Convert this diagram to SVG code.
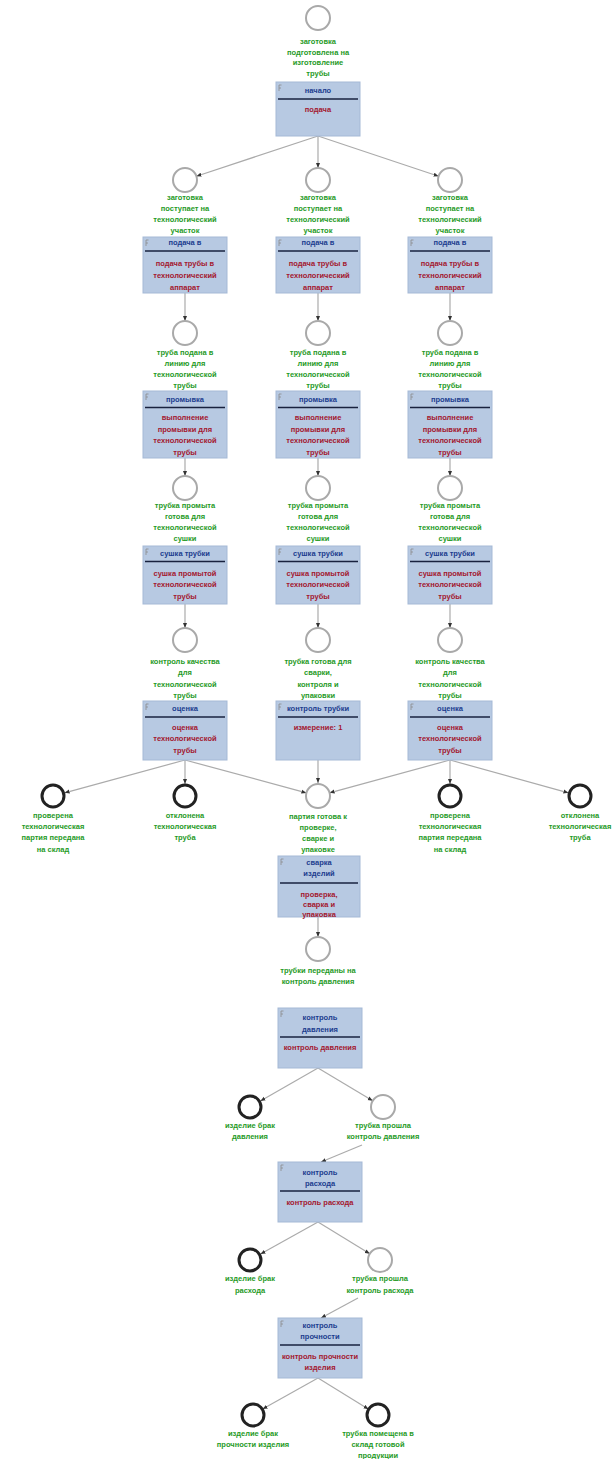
<svg xmlns="http://www.w3.org/2000/svg" width="613" height="1459" viewBox="0 0 613 1459">
<style>
text{font-family:"Liberation Sans",Arial,sans-serif;font-weight:bold;font-size:7.5px;text-anchor:middle}
.lbl{fill:#1f9a1f}
.t{fill:#1b3c8e}
.r{fill:#a3172f}
.box{fill:#b7c9e2;stroke:#a5b9d6;stroke-width:1}
.sep{stroke:#18223f;stroke-width:1.5}
.ico{fill:none;stroke:#8a8a8a;stroke-width:0.8}
.st{fill:#fff;stroke:#a9a9a9;stroke-width:2}
.end{fill:#fff;stroke:#222;stroke-width:3}
.edge{fill:none;stroke:#ababab;stroke-width:1.2;marker-end:url(#arr)}
</style>
<defs>
<marker id="arr" viewBox="0 0 10 10" refX="10" refY="5" markerWidth="5" markerHeight="5" orient="auto" markerUnits="userSpaceOnUse">
<path d="M0,1 L10,5 L0,9 z" fill="#333"/>
</marker>
</defs>
<rect width="613" height="1459" fill="#fff"/>

<g id="connectors">
<line class="edge" x1="318" y1="136" x2="196.4" y2="176.2"/>
<line class="edge" x1="318" y1="136" x2="318" y2="168"/>
<line class="edge" x1="318" y1="136" x2="438.6" y2="176.2"/>
<line class="edge" x1="185" y1="293" x2="185" y2="321"/>
<line class="edge" x1="318" y1="293" x2="318" y2="321"/>
<line class="edge" x1="450" y1="293" x2="450" y2="321"/>
<line class="edge" x1="185" y1="458" x2="185" y2="476"/>
<line class="edge" x1="318" y1="458" x2="318" y2="476"/>
<line class="edge" x1="450" y1="458" x2="450" y2="476"/>
<line class="edge" x1="185" y1="604" x2="185" y2="628"/>
<line class="edge" x1="318" y1="604" x2="318" y2="628"/>
<line class="edge" x1="450" y1="604" x2="450" y2="628"/>
<line class="edge" x1="185" y1="760" x2="64.6" y2="792.8"/>
<line class="edge" x1="185" y1="760" x2="185" y2="784"/>
<line class="edge" x1="185" y1="760" x2="306.4" y2="792.9"/>
<line class="edge" x1="318" y1="760" x2="318" y2="783"/>
<line class="edge" x1="450" y1="760" x2="329.6" y2="792.8"/>
<line class="edge" x1="450" y1="760" x2="450" y2="784"/>
<line class="edge" x1="450" y1="760" x2="568.4" y2="792.8"/>
<line class="edge" x1="318" y1="917" x2="318" y2="937"/>
<line class="edge" x1="318" y1="1068" x2="260.4" y2="1101"/>
<line class="edge" x1="318" y1="1068" x2="372.7" y2="1100.8"/>
<line class="edge" x1="362" y1="1145" x2="321" y2="1162"/>
<line class="edge" x1="318" y1="1222" x2="260.5" y2="1254.1"/>
<line class="edge" x1="318" y1="1222" x2="369.8" y2="1253.7"/>
<line class="edge" x1="358" y1="1298" x2="321" y2="1318"/>
<line class="edge" x1="318" y1="1378" x2="262.6" y2="1409.1"/>
<line class="edge" x1="318" y1="1378" x2="368.6" y2="1409.2"/>
</g>

<!-- top -->
<g id="s0"><circle class="st" cx="318" cy="18" r="12"/>
<text class="lbl" x="318" y="44">заготовка<tspan x="318" dy="10.5">подготовлена на</tspan><tspan x="318" dy="10.5">изготовление</tspan><tspan x="318" dy="10.5">трубы</tspan></text></g>
<g id="f0"><rect class="box" x="276" y="82" width="84" height="54"/><path class="ico" d="M279,85v6M279,85h2.5M279,88h2"/>
<text class="t" x="318" y="93">начало</text><line class="sep" x1="278" y1="99" x2="358" y2="99"/>
<text class="r" x="318" y="112">подача</text></g>

<!-- row 2 -->
<g id="s1a"><circle class="st" cx="185" cy="180" r="12"/>
<text class="lbl" x="185" y="200">заготовка<tspan x="185" dy="11">поступает на</tspan><tspan x="185" dy="11">технологический</tspan><tspan x="185" dy="11">участок</tspan></text></g>
<g id="s1b"><circle class="st" cx="318" cy="180" r="12"/>
<text class="lbl" x="318" y="200">заготовка<tspan x="318" dy="11">поступает на</tspan><tspan x="318" dy="11">технологический</tspan><tspan x="318" dy="11">участок</tspan></text></g>
<g id="s1c"><circle class="st" cx="450" cy="180" r="12"/>
<text class="lbl" x="450" y="200">заготовка<tspan x="450" dy="11">поступает на</tspan><tspan x="450" dy="11">технологический</tspan><tspan x="450" dy="11">участок</tspan></text></g>
<g id="f1a"><rect class="box" x="143" y="237" width="84" height="56"/><path class="ico" d="M146,240v6M146,240h2.5M146,243h2"/>
<text class="t" x="185" y="245">подача в</text><line class="sep" x1="145" y1="251" x2="225" y2="251"/>
<text class="r" x="185" y="266">подача трубы в<tspan x="185" dy="12">технологический</tspan><tspan x="185" dy="12">аппарат</tspan></text></g>
<g id="f1b"><rect class="box" x="276" y="237" width="84" height="56"/><path class="ico" d="M279,240v6M279,240h2.5M279,243h2"/>
<text class="t" x="318" y="245">подача в</text><line class="sep" x1="278" y1="251" x2="358" y2="251"/>
<text class="r" x="318" y="266">подача трубы в<tspan x="318" dy="12">технологический</tspan><tspan x="318" dy="12">аппарат</tspan></text></g>
<g id="f1c"><rect class="box" x="408" y="237" width="84" height="56"/><path class="ico" d="M411,240v6M411,240h2.5M411,243h2"/>
<text class="t" x="450" y="245">подача в</text><line class="sep" x1="410" y1="251" x2="490" y2="251"/>
<text class="r" x="450" y="266">подача трубы в<tspan x="450" dy="12">технологический</tspan><tspan x="450" dy="12">аппарат</tspan></text></g>

<!-- row 3 -->
<g id="s2a"><circle class="st" cx="185" cy="333" r="12"/>
<text class="lbl" x="185" y="354.5">труба подана в<tspan x="185" dy="11">линию для</tspan><tspan x="185" dy="11">технологической</tspan><tspan x="185" dy="11">трубы</tspan></text></g>
<g id="s2b"><circle class="st" cx="318" cy="333" r="12"/>
<text class="lbl" x="318" y="354.5">труба подана в<tspan x="318" dy="11">линию для</tspan><tspan x="318" dy="11">технологической</tspan><tspan x="318" dy="11">трубы</tspan></text></g>
<g id="s2c"><circle class="st" cx="450" cy="333" r="12"/>
<text class="lbl" x="450" y="354.5">труба подана в<tspan x="450" dy="11">линию для</tspan><tspan x="450" dy="11">технологической</tspan><tspan x="450" dy="11">трубы</tspan></text></g>
<g id="f2a"><rect class="box" x="143" y="391" width="84" height="67"/><path class="ico" d="M146,394v6M146,394h2.5M146,397h2"/>
<text class="t" x="185" y="401.5">промывка</text><line class="sep" x1="145" y1="407.5" x2="225" y2="407.5"/>
<text class="r" x="185" y="420">выполнение<tspan x="185" dy="11.5">промывки для</tspan><tspan x="185" dy="11.5">технологической</tspan><tspan x="185" dy="11.5">трубы</tspan></text></g>
<g id="f2b"><rect class="box" x="276" y="391" width="84" height="67"/><path class="ico" d="M279,394v6M279,394h2.5M279,397h2"/>
<text class="t" x="318" y="401.5">промывка</text><line class="sep" x1="278" y1="407.5" x2="358" y2="407.5"/>
<text class="r" x="318" y="420">выполнение<tspan x="318" dy="11.5">промывки для</tspan><tspan x="318" dy="11.5">технологической</tspan><tspan x="318" dy="11.5">трубы</tspan></text></g>
<g id="f2c"><rect class="box" x="408" y="391" width="84" height="67"/><path class="ico" d="M411,394v6M411,394h2.5M411,397h2"/>
<text class="t" x="450" y="401.5">промывка</text><line class="sep" x1="410" y1="407.5" x2="490" y2="407.5"/>
<text class="r" x="450" y="420">выполнение<tspan x="450" dy="11.5">промывки для</tspan><tspan x="450" dy="11.5">технологической</tspan><tspan x="450" dy="11.5">трубы</tspan></text></g>

<!-- row 4 -->
<g id="s3a"><circle class="st" cx="185" cy="488" r="12"/>
<text class="lbl" x="185" y="508">трубка промыта<tspan x="185" dy="11">готова для</tspan><tspan x="185" dy="11">технологической</tspan><tspan x="185" dy="11">сушки</tspan></text></g>
<g id="s3b"><circle class="st" cx="318" cy="488" r="12"/>
<text class="lbl" x="318" y="508">трубка промыта<tspan x="318" dy="11">готова для</tspan><tspan x="318" dy="11">технологической</tspan><tspan x="318" dy="11">сушки</tspan></text></g>
<g id="s3c"><circle class="st" cx="450" cy="488" r="12"/>
<text class="lbl" x="450" y="508">трубка промыта<tspan x="450" dy="11">готова для</tspan><tspan x="450" dy="11">технологической</tspan><tspan x="450" dy="11">сушки</tspan></text></g>
<g id="f3a"><rect class="box" x="143" y="546" width="84" height="58"/><path class="ico" d="M146,549v6M146,549h2.5M146,552h2"/>
<text class="t" x="185" y="556">сушка трубки</text><line class="sep" x1="145" y1="561.5" x2="225" y2="561.5"/>
<text class="r" x="185" y="575.5">сушка промытой<tspan x="185" dy="11.5">технологической</tspan><tspan x="185" dy="11.5">трубы</tspan></text></g>
<g id="f3b"><rect class="box" x="276" y="546" width="84" height="58"/><path class="ico" d="M279,549v6M279,549h2.5M279,552h2"/>
<text class="t" x="318" y="556">сушка трубки</text><line class="sep" x1="278" y1="561.5" x2="358" y2="561.5"/>
<text class="r" x="318" y="575.5">сушка промытой<tspan x="318" dy="11.5">технологической</tspan><tspan x="318" dy="11.5">трубы</tspan></text></g>
<g id="f3c"><rect class="box" x="408" y="546" width="84" height="58"/><path class="ico" d="M411,549v6M411,549h2.5M411,552h2"/>
<text class="t" x="450" y="556">сушка трубки</text><line class="sep" x1="410" y1="561.5" x2="490" y2="561.5"/>
<text class="r" x="450" y="575.5">сушка промытой<tspan x="450" dy="11.5">технологической</tspan><tspan x="450" dy="11.5">трубы</tspan></text></g>

<!-- row 5 -->
<g id="s4a"><circle class="st" cx="185" cy="640" r="12"/>
<text class="lbl" x="185" y="664">контроль качества<tspan x="185" dy="11.3">для</tspan><tspan x="185" dy="11.3">технологической</tspan><tspan x="185" dy="11.3">трубы</tspan></text></g>
<g id="s4b"><circle class="st" cx="318" cy="640" r="12"/>
<text class="lbl" x="318" y="664">трубка готова для<tspan x="318" dy="11.3">сварки,</tspan><tspan x="318" dy="11.3">контроля и</tspan><tspan x="318" dy="11.3">упаковки</tspan></text></g>
<g id="s4c"><circle class="st" cx="450" cy="640" r="12"/>
<text class="lbl" x="450" y="664">контроль качества<tspan x="450" dy="11.3">для</tspan><tspan x="450" dy="11.3">технологической</tspan><tspan x="450" dy="11.3">трубы</tspan></text></g>
<g id="f4a"><rect class="box" x="143" y="701" width="84" height="59"/><path class="ico" d="M146,704v6M146,704h2.5M146,707h2"/>
<text class="t" x="185" y="711">оценка</text><line class="sep" x1="145" y1="717" x2="225" y2="717"/>
<text class="r" x="185" y="729.5">оценка<tspan x="185" dy="11.5">технологической</tspan><tspan x="185" dy="11.5">трубы</tspan></text></g>
<g id="f4b"><rect class="box" x="276" y="701" width="84" height="59"/><path class="ico" d="M279,704v6M279,704h2.5M279,707h2"/>
<text class="t" x="318" y="711">контроль трубки</text><line class="sep" x1="278" y1="717" x2="358" y2="717"/>
<text class="r" x="318" y="729.5">измерение: 1</text></g>
<g id="f4c"><rect class="box" x="408" y="701" width="84" height="59"/><path class="ico" d="M411,704v6M411,704h2.5M411,707h2"/>
<text class="t" x="450" y="711">оценка</text><line class="sep" x1="410" y1="717" x2="490" y2="717"/>
<text class="r" x="450" y="729.5">оценка<tspan x="450" dy="11.5">технологической</tspan><tspan x="450" dy="11.5">трубы</tspan></text></g>

<!-- ends row -->
<g id="e1"><circle class="end" cx="53" cy="796" r="11"/>
<text class="lbl" x="53" y="818">проверена<tspan x="53" dy="11.2">технологическая</tspan><tspan x="53" dy="11.2">партия передана</tspan><tspan x="53" dy="11.2">на склад</tspan></text></g>
<g id="e2"><circle class="end" cx="185" cy="796" r="11"/>
<text class="lbl" x="185" y="818">отклонена<tspan x="185" dy="11.2">технологическая</tspan><tspan x="185" dy="11.2">труба</tspan></text></g>
<g id="e3"><circle class="end" cx="450" cy="796" r="11"/>
<text class="lbl" x="450" y="818">проверена<tspan x="450" dy="11.2">технологическая</tspan><tspan x="450" dy="11.2">партия передана</tspan><tspan x="450" dy="11.2">на склад</tspan></text></g>
<g id="e4"><circle class="end" cx="580" cy="796" r="11"/>
<text class="lbl" x="580" y="818">отклонена<tspan x="580" dy="11.2">технологическая</tspan><tspan x="580" dy="11.2">труба</tspan></text></g>

<!-- merge -->
<g id="s5"><circle class="st" cx="318" cy="796" r="12"/>
<text class="lbl" x="318" y="818.5">партия готова к<tspan x="318" dy="11.2">проверке,</tspan><tspan x="318" dy="11.2">сварке и</tspan><tspan x="318" dy="11.2">упаковке</tspan></text></g>
<g id="f5"><rect class="box" x="278" y="856" width="82" height="61"/><path class="ico" d="M281,859v6M281,859h2.5M281,862h2"/>
<text class="t" x="319" y="864.5">сварка<tspan x="319" dy="11.5">изделий</tspan></text><line class="sep" x1="280" y1="883" x2="358" y2="883"/>
<text class="r" x="319" y="896.5">проверка,<tspan x="319" dy="10.3">сварка и</tspan><tspan x="319" dy="10.3">упаковка</tspan></text></g>

<g id="s6"><circle class="st" cx="318" cy="949" r="12"/>
<text class="lbl" x="318" y="973">трубки переданы на<tspan x="318" dy="11.3">контроль давления</tspan></text></g>
<g id="f6"><rect class="box" x="278" y="1008" width="84" height="60"/><path class="ico" d="M281,1011v6M281,1011h2.5M281,1014h2"/>
<text class="t" x="320" y="1020">контроль<tspan x="320" dy="11.5">давления</tspan></text><line class="sep" x1="280" y1="1037" x2="360" y2="1037"/>
<text class="r" x="320" y="1050">контроль давления</text></g>

<g id="e5"><circle class="end" cx="250" cy="1107" r="11"/>
<text class="lbl" x="250" y="1128">изделие брак<tspan x="250" dy="11.3">давления</tspan></text></g>
<g id="s7"><circle class="st" cx="383" cy="1107" r="12"/>
<text class="lbl" x="383" y="1128">трубка прошла<tspan x="383" dy="11.3">контроль давления</tspan></text></g>

<g id="f7"><rect class="box" x="278" y="1162" width="84" height="60"/><path class="ico" d="M281,1165v6M281,1165h2.5M281,1168h2"/>
<text class="t" x="320" y="1174.5">контроль<tspan x="320" dy="11.3">расхода</tspan></text><line class="sep" x1="280" y1="1191" x2="360" y2="1191"/>
<text class="r" x="320" y="1204.5">контроль расхода</text></g>

<g id="e6"><circle class="end" cx="250" cy="1260" r="11"/>
<text class="lbl" x="250" y="1281">изделие брак<tspan x="250" dy="11.5">расхода</tspan></text></g>
<g id="s8"><circle class="st" cx="380" cy="1260" r="12"/>
<text class="lbl" x="380" y="1281">трубка прошла<tspan x="380" dy="11.5">контроль расхода</tspan></text></g>

<g id="f8"><rect class="box" x="278" y="1318" width="84" height="60"/><path class="ico" d="M281,1321v6M281,1321h2.5M281,1324h2"/>
<text class="t" x="320" y="1327.5">контроль<tspan x="320" dy="11.5">прочности</tspan></text><line class="sep" x1="280" y1="1345" x2="360" y2="1345"/>
<text class="r" x="320" y="1358.5">контроль прочности<tspan x="320" dy="11">изделия</tspan></text></g>

<g id="e7"><circle class="end" cx="253" cy="1415" r="11"/>
<text class="lbl" x="253" y="1436">изделие брак<tspan x="253" dy="11.3">прочности изделия</tspan></text></g>
<g id="e8"><circle class="end" cx="378" cy="1415" r="11"/>
<text class="lbl" x="378" y="1436">трубка помещена в<tspan x="378" dy="11">склад готовой</tspan><tspan x="378" dy="10.5">продукции</tspan></text></g>
</svg>
